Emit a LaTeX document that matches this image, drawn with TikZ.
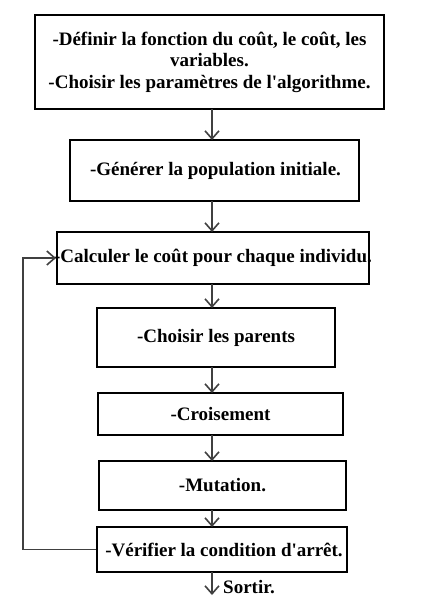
\documentclass[tikz,border=0pt]{standalone}
\usepackage{fontspec}
\setmainfont{Liberation Serif}
\usetikzlibrary{arrows.meta}
\begin{document}
\begin{tikzpicture}[x=1pt,y=-1pt,
  stepbox/.style={draw=black, line width=2pt, inner sep=0pt, align=center,
    font=\fontsize{19}{21.5}\selectfont\bfseries},
  flow/.style={draw=black!75, line width=1.8pt, -{Straight Barb[length=8pt,width=14pt,line width=1.6pt]}},
  lbl/.style={font=\fontsize{19}{21.5}\selectfont\bfseries, inner sep=0pt}]
\useasboundingbox (0,0) rectangle (421,600);
\node[stepbox, minimum width=349pt, minimum height=94pt] (b1) at (209.5,62)
  {-Définir la fonction du coût, le coût, les\\variables.\\-Choisir les paramètres de l\textquotesingle algorithme.};
\node[stepbox, minimum width=289pt, minimum height=61pt] (b2) at (214.5,170.5)
  {\hspace*{2pt}-Générer la population initiale.};
\node[stepbox, minimum width=312pt, minimum height=52pt] (b3) at (213,258)
  {\makebox[310pt][c]{-Calculer le coût pour chaque individu.}};
\node[stepbox, minimum width=238pt, minimum height=59pt] (b4) at (216,337.5)
  {-Choisir les parents};
\node[stepbox, minimum width=245pt, minimum height=42pt] (b5) at (220.5,414)
  {-Croisement};
\node[stepbox, minimum width=247pt, minimum height=49pt] (b6) at (222.5,485.5)
  {-Mutation.};
\node[stepbox, minimum width=250pt, minimum height=45pt] (b7) at (222,549.5)
  {\hspace*{4pt}-Vérifier la condition d\textquotesingle arrêt.};
\coordinate (out) at (212,595);
\node[lbl, anchor=west] (sortir) at (223,587) {Sortir.};
\draw[flow] (212,109) -- (212,140);
\draw[flow] (212,201) -- (212,232);
\draw[flow] (212,284) -- (212,308);
\draw[flow] (212,367) -- (212,393);
\draw[flow] (212,435) -- (212,461);
\draw[flow] (212,510) -- (212,527);
\draw[flow] (212,572) -- (out);
\draw[flow] (b7.west) -- ++(-73,0) |- (b3.west);
\end{tikzpicture}
\end{document}
